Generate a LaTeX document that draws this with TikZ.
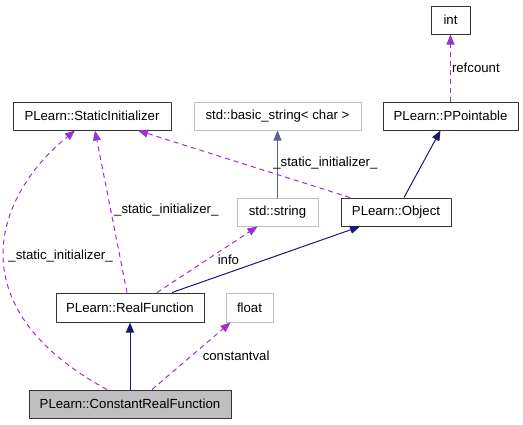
\documentclass[tikz,border=0pt]{standalone}
\usepackage{fontspec}
\setmainfont{Liberation Sans}
\usetikzlibrary{arrows.meta}
\definecolor{usecol}{HTML}{9A32CD}
\definecolor{isacol}{HTML}{191970}
\definecolor{extcol}{HTML}{BFBFBF}
\begin{document}
\begin{tikzpicture}[x=1pt,y=-1pt,>={Triangle[length=10pt,width=8pt]}, font=\fontsize{13.2}{15}\selectfont, line join=round,
	cls/.style={draw=black!80, line width=1pt, minimum height=28pt, inner sep=0pt},
	ext/.style={cls, draw=extcol},
	use/.style={->, usecol, line width=1pt, dash pattern=on 5pt off 4pt},
	isa/.style={->, isacol, line width=1pt},
	lbl/.style={inner sep=1pt, text=black}]
	\useasboundingbox (0,0) rectangle (523,424);
	% classes
	\node[cls, minimum width=39pt] (int) at (450.5,20) {int};
	\node[cls, minimum width=158pt] (si) at (92,116) {PLearn::StaticInitializer};
	\node[ext, minimum width=167pt] (bstr) at (277.5,116) {std::basic\_string< char >};
	\node[cls, minimum width=135pt] (pp) at (450.5,116) {PLearn::PPointable};
	\node[ext, minimum width=81pt] (str) at (277.5,212) {std::string};
	\node[cls, minimum width=110pt] (obj) at (396,212) {PLearn::Object};
	\node[cls, minimum width=148pt, minimum height=29pt] (rf) at (130,307.5) {PLearn::RealFunction};
	\node[ext, minimum width=47pt, minimum height=29pt] (flt) at (249.5,307.5) {float};
	\node[cls, fill=extcol, minimum width=202pt] (crf) at (130,404) {PLearn::ConstantRealFunction};
	% inheritance
	\draw[isa] (crf.north) -- (rf.south);
	\draw[isa] ([xshift=42pt]rf.north) -- ([xshift=-36pt]obj.south);
	\draw[isa] ([xshift=8pt]obj.north) -- ([xshift=-10pt]pp.south);
	\draw[isa, isacol!70] (str.north) -- (bstr.south);
	% members
	\draw[use] (pp.north) -- (int.south) node[lbl, midway, right]{refcount};
	\draw[use] ([xshift=-46pt]obj.north) -- ([xshift=46pt]si.south) node[lbl, pos=0.515, anchor=west, xshift=31pt]{\_static\_initializer\_};
	\draw[use] ([xshift=-3pt]rf.north) -- ([xshift=3pt]si.south) node[lbl, pos=0.51, anchor=west, xshift=2pt]{\_static\_initializer\_};
	\draw[use] ([xshift=-23pt]crf.north) .. controls (-40,310) and (-10,200) .. ([xshift=-17pt]si.south) node[lbl, pos=0.5, anchor=west, xshift=3pt]{\_static\_initializer\_};
	\draw[use] ([xshift=27pt]rf.north) -- ([xshift=-20pt]str.south) node[lbl, pos=0.5, anchor=west, xshift=9pt]{info};
	\draw[use] ([xshift=22pt]crf.north) -- ([xshift=-19pt]flt.south) node[lbl, pos=0.5, anchor=west, xshift=10pt]{constantval};
\end{tikzpicture}
\end{document}
